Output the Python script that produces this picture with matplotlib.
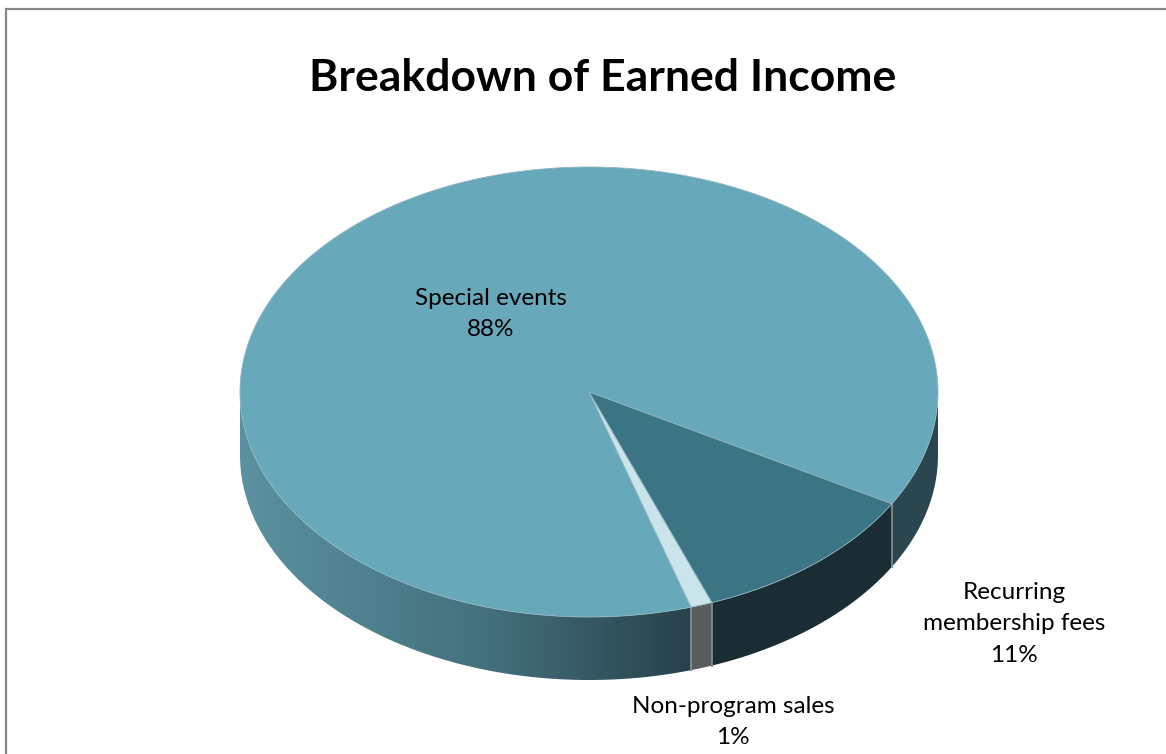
import matplotlib
matplotlib.use("Agg")
import matplotlib.pyplot as plt
import numpy as np
from matplotlib.patches import Polygon
from matplotlib.colors import LinearSegmentedColormap

# Earned income shares (percent)
categories = ["Special events", "Recurring\nmembership fees", "Non-program sales"]
shares = [88, 11, 1]

top_colors = ["#67a8bb", "#3b7483", "#cbe3ea"]
side_colors = [None, "#1b2d34", "#585c5d"]   # None -> shaded gradient

# 3-D pie geometry in pixel units
cx, cy = 589, 392
rx, ry = 349, 225
depth = 63
start = 73.0          # degrees, clockwise on screen

label_pos = [(491, 314), (1014, 624), (733, 722)]


def rim(t_deg, dy=0.0):
    t = np.radians(t_deg)
    return np.column_stack([cx + rx * np.cos(t), cy + ry * np.sin(t) + dy])


def front_pieces(a, b):
    # parts of [a, b] lying on the visible (front) half of the rim
    out = []
    for k in range(-1, 3):
        lo, hi = max(a, 360 * k), min(b, 360 * k + 180)
        if hi > lo:
            out.append((lo, hi))
    return out


def main():
    fig = plt.figure(figsize=(11.66, 7.54), dpi=100)
    ax = fig.add_axes([0, 0, 1, 1])
    ax.set_xlim(0, 1166)
    ax.set_ylim(754, 0)
    ax.axis("off")

    plt.rcParams["font.family"] = ["Lato", "DejaVu Sans"]

    # chart border
    ax.plot([5, 1166], [9, 9], color="#878787", lw=1.6, solid_capstyle="butt")
    ax.plot([6, 6], [9, 754], color="#878787", lw=1.6, solid_capstyle="butt")

    fracs = np.array(shares) / sum(shares)
    bounds = start + 360 * np.concatenate([[0], np.cumsum(fracs)])

    grad = LinearSegmentedColormap.from_list(
        "side", [(0, "#5b91a0"), (0.35, "#44717d"), (0.65, "#27414a"), (1, "#2b474f")])
    gimg = np.linspace(0, 1, 256).reshape(1, -1)

    # side walls
    for i in range(len(shares)):
        for lo, hi in front_pieces(bounds[i], bounds[i + 1]):
            ts = np.linspace(lo, hi, 200)
            pts = np.vstack([rim(ts), rim(ts[::-1], depth)])
            if side_colors[i] is None:
                poly = Polygon(pts, closed=True, facecolor="none", edgecolor="none")
                ax.add_patch(poly)
                im = ax.imshow(gimg, cmap=grad, aspect="auto",
                               extent=[cx - rx, cx + rx, cy + ry + depth, cy - 10],
                               zorder=1)
                im.set_clip_path(poly)
            else:
                ax.add_patch(Polygon(pts, closed=True, facecolor=side_colors[i],
                                     edgecolor="none", zorder=1))

    # vertical seams where slices meet on the front wall
    for b in bounds:
        bb = b % 360
        if 0 < bb < 180:
            p = rim([bb])[0]
            ax.plot([p[0], p[0]], [p[1], p[1] + depth], color="#7d8a8e",
                    lw=1.3, zorder=2)

    # top faces
    for i in range(len(shares)):
        ts = np.linspace(bounds[i], bounds[i + 1], 400)
        pts = np.vstack([[cx, cy], rim(ts)])
        ax.add_patch(Polygon(pts, closed=True, facecolor=top_colors[i],
                             edgecolor="#8fb6c2", lw=0.6, zorder=3))

    ax.text(603, 78, "Breakdown of Earned Income", ha="center", va="center",
            fontsize=32, fontweight="bold", color="black")

    for name, v, (x, y) in zip(categories, shares, label_pos):
        ax.text(x, y, f"{name}\n{v}%", ha="center", va="center",
                fontsize=17.5, color="black", linespacing=1.6, zorder=5)

    fig.savefig("out.png", dpi=100)


if __name__ == "__main__":
    main()
